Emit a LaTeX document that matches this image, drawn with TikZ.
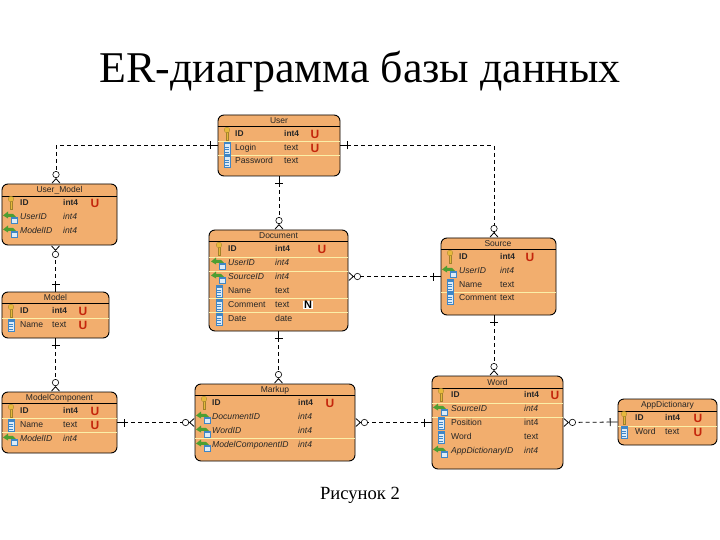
\documentclass[tikz,border=0pt]{standalone}
\usepackage{fontspec}
\setmainfont{Liberation Serif}
\setsansfont{Liberation Sans}
\usetikzlibrary{arrows.meta}
\definecolor{tablefill}{HTML}{F2AE6E}
\definecolor{rowline}{HTML}{FBEFA8}
\definecolor{uniquered}{HTML}{C4260C}
\definecolor{keygold}{HTML}{E6B93C}
\definecolor{docblue}{HTML}{3F86C6}
\definecolor{docpale}{HTML}{DCEBF7}
\definecolor{fkgreen}{HTML}{4E9E32}

\tikzset{
    onetip/.tip={Bar[width=8bp,line width=.8pt] Rectangle[length=7bp,width=.8pt,line width=0pt]},
    manytip/.tip={Circle[open,fill=white,length=7bp,width=7bp,line width=.6pt] Straight Barb[reversed,length=4.5bp,width=8bp,line width=.8pt]},
    pk/.pic={
        \fill[keygold, draw=keygold!70!black, line width=.3pt] (-1,-2) rectangle (1,6);
        \fill[keygold, draw=keygold!70!black, line width=.3pt] (0,-4) circle (2.8);
    },
    fd/.pic={
        \draw[docblue, fill=docpale, line width=.6pt] (-3,-6) rectangle (3,6);
        \fill[docblue] (-3,-6) rectangle (3,-3.5);
        \draw[docblue, line width=.4pt] (-2,-1) -- (2,-1) (-2,1.5) -- (2,1.5) (-2,4) -- (2,4);
    },
    fk/.pic={
        \fill[fkgreen] (-8,-1.5) -- (-3,-5.5) -- (-3,-3.2) -- (2,-3) -- (5,0) -- (-3,-.2) -- (-3,1.5) -- cycle;
        \fill[docpale, draw=docblue, line width=.6pt] (0,0) rectangle (6,6);
        \fill[docblue] (0,0) rectangle (6,1.8);
    }
}

% icon x, name x, type x, mark x, rows
\newcommand{\tablerows}[6]{
    \foreach \ry/\ic/\fname/\ftype/\fmark [count=\ri] in {#6} {
        \pic at (#2,\ry) {\ic};
        \node[fieldtext, txt\ic] (#1-n\ri) at (#3,\ry) {\fname};
        \node[typetext, txt\ic] (#1-t\ri) at (#4,\ry) {\ftype};
        \ifx\fmark\empty\else
            \node[uniquemark] (#1-u\ri) at (#5,\ry) {\fmark};
        \fi
    }
}

\begin{document}
\begin{tikzpicture}[
    x=1bp, y=-1bp,
    every node/.style={font=\sffamily, inner sep=0pt},
    entity/.style={rectangle, rounded corners=6bp, draw=black, fill=tablefill, line width=.9pt},
    headrule/.style={draw=black, line width=.7pt},
    rowrule/.style={draw=rowline, line width=.7pt, shorten <=.8pt, shorten >=.8pt},
    headtext/.style={font=\sffamily\fontsize{8.5bp}{9bp}\selectfont, text=black!85},
    fieldtext/.style={anchor=west, text height=6.4bp, text depth=1.6bp, font=\sffamily\fontsize{8.6bp}{10bp}\selectfont, text=black!85},
    typetext/.style={anchor=west, text height=6.4bp, text depth=1.6bp, font=\sffamily\fontsize{8.8bp}{10bp}\selectfont, text=black!85},
    txtpk/.style={font=\sffamily\bfseries\fontsize{8.4bp}{10bp}\selectfont},
    txtfk/.style={font=\sffamily\itshape\fontsize{8.6bp}{10bp}\selectfont},
    txtfd/.style={},
    uniquemark/.style={font=\sffamily\bfseries\fontsize{12bp}{12bp}\selectfont, text=uniquered},
    nullmark/.style={font=\sffamily\bfseries\fontsize{11bp}{12bp}\selectfont, fill=white, inner sep=.6pt},
    rel/.style={dashed, dash pattern=on 4bp off 3bp, line width=.8pt, draw=black},
    titletext/.style={font=\rmfamily\fontsize{43.9bp}{46bp}\selectfont},
    captiontext/.style={font=\rmfamily\fontsize{18.6bp}{22bp}\selectfont}
]
\useasboundingbox (0,0) rectangle (720,540);
\fill[white] (0,0) rectangle (720,540);

\node[titletext] (title) at (360,71) {ER-диаграмма базы данных};
\node[captiontext] (caption) at (360,495) {Рисунок 2};

\node[entity, minimum width=122bp, minimum height=61bp] (user) at (279,145.5) {};
\node[entity, minimum width=115bp, minimum height=61bp] (usermodel) at (59.5,214.5) {};
\node[entity, minimum width=107bp, minimum height=46bp] (model) at (55.5,315) {};
\node[entity, minimum width=115bp, minimum height=61bp] (modelcomp) at (59.5,422.5) {};
\node[entity, minimum width=139bp, minimum height=101bp] (document) at (278.5,280.5) {};
\node[entity, minimum width=115bp, minimum height=77bp] (source) at (498.5,276.5) {};
\node[entity, minimum width=160bp, minimum height=77bp] (markup) at (275,422.5) {};
\node[entity, minimum width=131bp, minimum height=93bp] (word) at (497.5,422.5) {};
\node[entity, minimum width=99bp, minimum height=46bp] (appdict) at (667.5,422) {};

% header rules
\foreach \tbl/\hy in {user/126.5, usermodel/196.5, model/303.5, modelcomp/403.5, document/241.5, source/249.5, markup/395.5, word/388, appdict/411.5}
    \draw[headrule] (\tbl.west |- 0,\hy) -- (\tbl.east |- 0,\hy);

% row rules
\foreach \tbl/\ly in {user/141, user/155, model/318, modelcomp/418, modelcomp/432,
    document/257, document/271, document/298, document/312, source/292, markup/438,
    word/403, word/417, appdict/426}
    \draw[rowrule] (\tbl.west |- 0,\ly) -- (\tbl.east |- 0,\ly);

\node[headtext] (user-h) at (279,120.5) {User};
\node[headtext] (usermodel-h) at (59.5,190) {User\_Model};
\node[headtext] (model-h) at (55.5,297.5) {Model};
\node[headtext] (modelcomp-h) at (59.5,398) {ModelComponent};
\node[headtext] (document-h) at (278.5,236) {Document};
\node[headtext] (source-h) at (498,244) {Source};
\node[headtext] (markup-h) at (275,390) {Markup};
\node[headtext] (word-h) at (497.5,382) {Word};
\node[headtext] (appdict-h) at (667.5,405.5) {AppDictionary};

\tablerows{user}{227}{235}{284}{315}{134/pk/ID/int4/U, 148/fd/Login/text/U, 161/fd/Password/text/}
\tablerows{usermodel}{11}{20}{63}{95}{203/pk/ID/int4/U, 217/fk/UserID/int4/, 231/fk/ModelID/int4/}
\tablerows{model}{11}{20}{52}{83}{311/pk/ID/int4/U, 325/fd/Name/text/U}
\tablerows{modelcomp}{11}{20}{63}{95}{411/pk/ID/int4/U, 425/fd/Name/text/U, 439/fk/ModelID/int4/}
\tablerows{document}{219}{228}{275}{322}{249/pk/ID/int4/U, 263/fk/UserID/int4/, 277/fk/SourceID/int4/, 291/fd/Name/text/, 305/fd/Comment/text/, 319/fd/Date/date/}
\tablerows{source}{450}{459}{500}{530}{257/pk/ID/int4/U, 271/fk/UserID/int4/, 285/fd/Name/text/, 298/fd/Comment/text/}
\tablerows{markup}{204}{212}{298}{330}{403/pk/ID/int4/U, 417/fk/DocumentID/int4/, 431/fk/WordID/int4/, 445/fk/ModelComponentID/int4/}
\tablerows{word}{441}{451}{524}{555}{395/pk/ID/int4/U, 409/fk/SourceID/int4/, 423/fd/Position/int4/, 437/fd/Word/text/, 451/fk/AppDictionaryID/int4/}
\tablerows{appdict}{624}{635}{665}{698}{418/pk/ID/int4/U, 432/fd/Word/text/U}
\node[nullmark] (document-null) at (308,305) {N};

\draw[rel, onetip-manytip] (user.west) -| ([xshift=-3.5bp]usermodel.north);
\draw[rel, onetip-manytip] (user.east) -| ([xshift=-4.5bp]source.north);
\draw[rel, onetip-manytip] (user.south) -- (user.south |- document.north);
\draw[rel, onetip-manytip] (model.north) -- (model.north |- usermodel.south);
\draw[rel, onetip-manytip] (model.south) -- (model.south |- modelcomp.north);
\draw[rel, onetip-manytip] (document.south) -- (document.south |- markup.north);
\draw[rel, onetip-manytip] (source.west) -- (source.west -| document.east);
\draw[rel, onetip-manytip] ([xshift=-4.5bp]source.south) -- ([xshift=-4.5bp]source.south |- word.north);
\draw[rel, onetip-manytip] (modelcomp.east) -- (markup.west);
\draw[rel, onetip-manytip] (word.west) -- (markup.east);
\draw[rel, onetip-manytip] (appdict.west) -- (word.east);
\end{tikzpicture}
\end{document}
